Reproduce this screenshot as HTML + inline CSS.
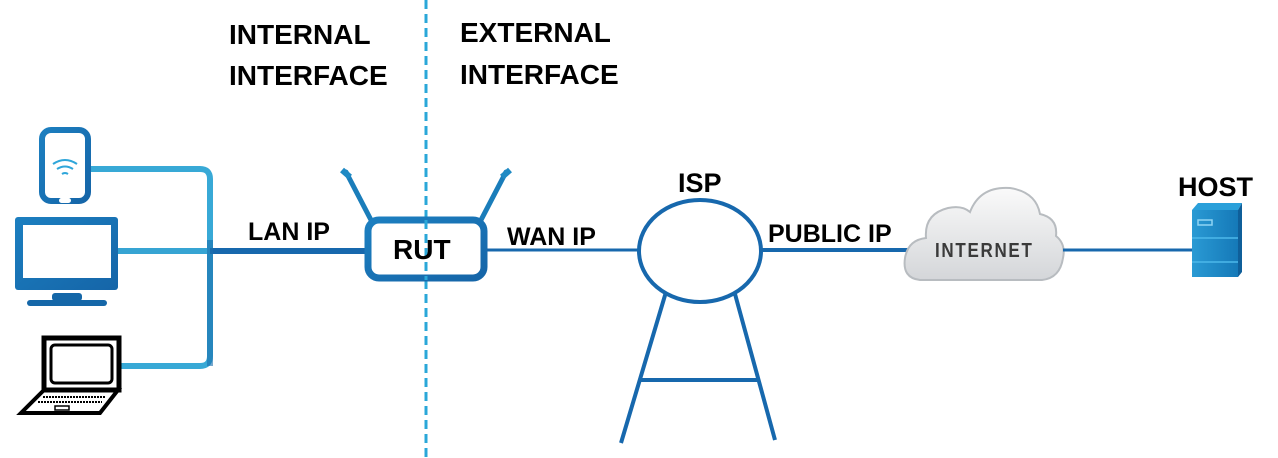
<!DOCTYPE html>
<html><head><meta charset="utf-8"><style>
html,body{margin:0;padding:0;background:#fff;}
svg{display:block;}
text{font-family:"Liberation Sans",sans-serif;font-weight:bold;fill:#000;}
</style></head><body>
<svg width="1278" height="458" viewBox="0 0 1278 458" xmlns="http://www.w3.org/2000/svg">
<defs>
<linearGradient id="g1" x1="0" y1="0" x2="1" y2="1"><stop offset="0" stop-color="#1c7fc0"/><stop offset="1" stop-color="#1565a8"/></linearGradient>
<linearGradient id="cl" x1="0" y1="0" x2="0" y2="1"><stop offset="0" stop-color="#fafafa"/><stop offset="1" stop-color="#d4d6d9"/></linearGradient>
<linearGradient id="sv" x1="0" y1="0" x2="1" y2="0"><stop offset="0" stop-color="#2a9ad4"/><stop offset="1" stop-color="#1579b8"/></linearGradient>
</defs>
<line x1="426" y1="0" x2="426" y2="458" stroke="#2aa7d8" stroke-width="3" stroke-dasharray="9,5"/>
<text x="229" y="44" font-size="28">INTERNAL</text>
<text x="229" y="85" font-size="28">INTERFACE</text>
<text x="460" y="42" font-size="28">EXTERNAL</text>
<text x="460" y="84" font-size="28">INTERFACE</text>
<path d="M90 169 H200 Q210 169 210 179 V356 Q210 366 200 366 H118" fill="none" stroke="#38a9d6" stroke-width="6"/>
<line x1="118" y1="251" x2="210" y2="251" stroke="#36a4d3" stroke-width="6"/>
<line x1="210" y1="251" x2="366" y2="251" stroke="#1768ad" stroke-width="6"/>
<line x1="210" y1="240" x2="210" y2="366" stroke="#1b6fae" stroke-width="6" opacity="0.6"/>
<rect x="42" y="130" width="46" height="71" rx="9" fill="#fff" stroke="url(#g1)" stroke-width="6"/>
<rect x="59" y="198" width="12" height="5" rx="2.5" fill="#fff"/>
<path d="M53 164 Q65 156 77 164 M57 169 Q65 164 73 169 M62 174 Q65 172 68 174" fill="none" stroke="#2fa6da" stroke-width="2"/>
<rect x="15" y="217" width="103" height="73" rx="3" fill="url(#g1)"/>
<rect x="23" y="225" width="88" height="53" fill="#fff"/>
<rect x="52" y="293" width="30" height="8" rx="3" fill="#1567a8"/>
<rect x="27" y="300" width="80" height="6" rx="3" fill="#1567a8"/>
<rect x="44" y="338" width="75" height="52" fill="none" stroke="#000" stroke-width="5"/>
<rect x="51" y="345" width="61" height="38" rx="4" fill="none" stroke="#000" stroke-width="3"/>
<path d="M44 390 L21 413 H100 L118 390 Z" fill="none" stroke="#000" stroke-width="4"/>
<line x1="43" y1="397" x2="106" y2="397" stroke="#000" stroke-width="2" stroke-dasharray="2,1"/>
<line x1="38" y1="402" x2="102" y2="402" stroke="#000" stroke-width="2" stroke-dasharray="2,1"/>
<rect x="55" y="406" width="14" height="4" fill="none" stroke="#000" stroke-width="1.5"/>
<line x1="346" y1="172" x2="371" y2="220" stroke="#1a7dba" stroke-width="5" stroke-linecap="round"/>
<line x1="506" y1="172" x2="481" y2="220" stroke="#1a7dba" stroke-width="5" stroke-linecap="round"/>
<line x1="342" y1="170" x2="350" y2="177" stroke="#1f8ac4" stroke-width="6"/>
<line x1="510" y1="170" x2="502" y2="177" stroke="#1f8ac4" stroke-width="6"/>
<rect x="368" y="220" width="116" height="58" rx="11" fill="#fff" stroke="url(#g1)" stroke-width="7"/>
<line x1="426" y1="220" x2="426" y2="280" stroke="#2aa7d8" stroke-width="3" stroke-dasharray="9,5"/>
<text x="393" y="259" font-size="28">RUT</text>
<text x="248" y="240" font-size="25">LAN IP</text>
<line x1="487" y1="250" x2="639" y2="250" stroke="#1768ad" stroke-width="3"/>
<text x="507" y="245" font-size="25">WAN IP</text>
<ellipse cx="700" cy="251" rx="61" ry="51" fill="#fff" stroke="#1768ad" stroke-width="4"/>
<line x1="666" y1="292" x2="621" y2="443" stroke="#1768ad" stroke-width="4"/>
<line x1="735" y1="294" x2="775" y2="440" stroke="#1768ad" stroke-width="4"/>
<line x1="641" y1="380" x2="757" y2="380" stroke="#1768ad" stroke-width="4"/>
<text x="678" y="192" font-size="27">ISP</text>
<line x1="762" y1="250" x2="910" y2="250" stroke="#1768ad" stroke-width="4"/>
<text x="768" y="242" font-size="25">PUBLIC IP</text>
<path d="M920 280 Q902 278 905 258 Q908 240 926 238 Q924 214 948 208 Q962 205 970 212 Q980 186 1010 188 Q1036 192 1040 214 Q1058 218 1056 236 Q1066 244 1063 258 Q1060 278 1042 280 Z" fill="url(#cl)" stroke="#b8bcc0" stroke-width="2"/>
<text x="935" y="257" font-size="20" style="fill:#3a3a3a;letter-spacing:2px" transform="translate(935 257) scale(0.85 1) translate(-935 -257)">INTERNET</text>
<line x1="1063" y1="250" x2="1192" y2="250" stroke="#1768ad" stroke-width="3"/>
<path d="M1192 210 L1198 203 H1242 L1238 210 Z" fill="#2aa0da"/>
<rect x="1192" y="210" width="46" height="67" fill="url(#sv)"/>
<path d="M1238 210 L1242 203 V272 L1238 277 Z" fill="#0f5f9a"/>
<rect x="1198" y="220" width="14" height="5" fill="none" stroke="#8fd4f4" stroke-width="1.5"/>
<line x1="1192" y1="238" x2="1238" y2="238" stroke="#4cb8ea" stroke-width="1.5"/>
<line x1="1192" y1="262" x2="1238" y2="262" stroke="#4cb8ea" stroke-width="1.5"/>
<text x="1178" y="196" font-size="27">HOST</text>
</svg>
</body></html>
